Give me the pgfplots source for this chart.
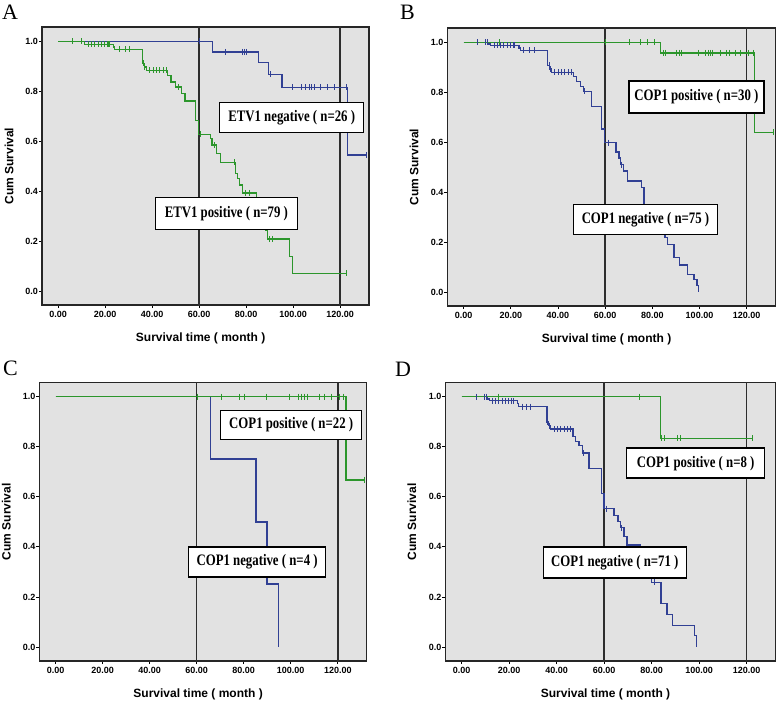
\documentclass[border=0pt]{standalone}
\usepackage{fontspec}
\usepackage{pgfplots}
\pgfplotsset{compat=1.18}
\setmainfont{Liberation Serif}
\setsansfont{Liberation Sans}
\newfontfamily\boxfont[FakeStretch=0.8]{Liberation Serif}

\definecolor{kmblue}{RGB}{49,64,148}
\definecolor{kmgreen}{RGB}{44,150,44}
\definecolor{bgray}{RGB}{226,226,226}
\definecolor{refgray}{RGB}{45,45,45}

\tikzset{
  lbox/.style={draw=black, fill=white, line width=1.4pt, inner sep=0pt,
    font=\boxfont\bfseries\fontsize{16}{18}\selectfont},
}
\pgfplotsset{
  kmaxis/.style={
    scale only axis, anchor=north west,
    xmin=-6.9, xmax=132.3, ymin=-0.056, ymax=1.057,
    axis background/.style={fill=bgray},
    axis line style={line width=1.4pt, draw=black!85},
    xtick={0,20,...,120}, ytick={0,0.2,0.4,0.6,0.8,1.0},
    scaled ticks=false,
    tick align=outside, major tick length=3pt,
    tick style={black, line width=0.8pt},
    xtick pos=bottom, ytick pos=left,
    tick label style={font=\sffamily\bfseries\fontsize{9}{10}\selectfont},
    x tick label style={/pgf/number format/fixed, /pgf/number format/fixed zerofill,
      /pgf/number format/precision=2, /pgf/number format/assume math mode=true},
    y tick label style={/pgf/number format/fixed, /pgf/number format/fixed zerofill,
      /pgf/number format/precision=1, /pgf/number format/assume math mode=true, inner xsep=0.8pt},
    xlabel={Survival time ( month )}, ylabel={Cum Survival},
    label style={font=\sffamily\bfseries\fontsize{12}{14}\selectfont},
    xlabel style={at={(axis description cs:0.485,-0.119)}, anchor=center},
    ylabel style={at={(axis description cs:-0.101,0.5)}, anchor=center},
  },
  refline/.style={refgray, line width=1.5pt, forget plot},
  kmline/.style={const plot, line width=1.3pt},
  censor/.style={only marks, mark=|, mark size=3pt, mark options={line width=0.9pt}},
}

\begin{document}
\begin{tikzpicture}
\path[use as bounding box] (0,0) rectangle (778pt,-701pt);

\node[anchor=base west, font=\fontsize{22}{24}\selectfont, inner sep=0] at (2pt,-20pt) {A};
\node[anchor=base west, font=\fontsize{22}{24}\selectfont, inner sep=0] at (400pt,-20pt) {B};
\node[anchor=base west, font=\fontsize{22}{24}\selectfont, inner sep=0] at (3pt,-375pt) {C};
\node[anchor=base west, font=\fontsize{22}{24}\selectfont, inner sep=0] at (395pt,-376pt) {D};

% ---------- A ----------
\begin{axis}[kmaxis, at={(42pt,-27pt)}, width=327pt, height=278pt]
\addplot[refline] coordinates {(60,-0.2) (60,1.2)};
\addplot[refline] coordinates {(120,-0.2) (120,1.2)};
% ETV1 negative
\addplot[kmline, kmblue] coordinates {
  (0,1) (65.6,0.957) (85.4,0.915) (89.5,0.867) (95.2,0.815) (123.2,0.544) (131,0.544)};
\addplot[censor, kmblue] coordinates {
  (60.2,1) (71,0.957) (78.4,0.957) (79.4,0.957) (80.1,0.957) (90.2,0.867)
  (99.9,0.815) (103.4,0.815) (105.2,0.815) (106.9,0.815) (107.6,0.815) (109,0.815)
  (111.8,0.815) (114.6,0.815) (117.6,0.815) (122.5,0.815) (131,0.544)};
% ETV1 positive
\addplot[kmline, kmgreen] coordinates {
  (0,1) (11.3,0.987) (23.4,0.977) (24,0.968) (35.9,0.911) (36.6,0.897) (37.6,0.884)
  (46.5,0.864) (48,0.837) (50,0.817) (52.5,0.79) (54,0.761) (58.4,0.684) (59.8,0.628)
  (64.9,0.611) (65.5,0.584) (67.5,0.551) (69,0.515) (75.5,0.471) (76.3,0.451)
  (77.3,0.424) (78.5,0.393) (84.5,0.36) (85.5,0.33) (86.5,0.30) (87.5,0.27)
  (88.5,0.244) (89.2,0.208) (98.5,0.137) (99.6,0.071) (122.5,0.071)};
\addplot[censor, kmgreen] coordinates {
  (6.1,1) (9.9,1) (12.7,0.987) (14.2,0.987) (15.6,0.987) (17,0.987) (18.4,0.987)
  (19.8,0.987) (20.8,0.987) (21.3,0.987) (21.6,0.987) (26.2,0.968) (28.8,0.968)
  (30.2,0.968) (36.2,0.911) (36.9,0.897) (39,0.884) (40.4,0.884) (41.8,0.884)
  (43.2,0.884) (44.6,0.884) (46.1,0.884) (51,0.817) (60.7,0.628) (66.3,0.584)
  (75.1,0.515) (79.8,0.393) (81.3,0.393) (89.9,0.208) (91,0.208) (122.5,0.071)};
\node[lbox, minimum width=144pt, minimum height=30pt] at (axis cs:99.4,0.694) {ETV1 negative ( n=26 )};
\node[lbox, minimum width=142pt, minimum height=32pt] at (axis cs:71.6,0.311) {ETV1 positive ( n=79 )};
\end{axis}

% ---------- B ----------
\begin{axis}[kmaxis, at={(447.3pt,-28pt)}, width=328.4pt, height=278pt]
\addplot[refline] coordinates {(60,-0.2) (60,1.2)};
\addplot[refline] coordinates {(120,-0.2) (120,1.2)};
% COP1 negative
\addplot[kmline, kmblue] coordinates {
  (0,1) (10.8,0.993) (11.5,0.987) (23.5,0.977) (24.2,0.967) (35.7,0.907) (36.5,0.893)
  (37.3,0.88) (46.5,0.864) (47.9,0.842) (49.5,0.824) (50.7,0.804) (54.3,0.742)
  (58.5,0.653) (59.6,0.598) (64.6,0.56) (65.9,0.537) (66.5,0.51) (67.8,0.484)
  (69.4,0.444) (75.5,0.418) (76.5,0.351) (78,0.32) (79.5,0.29) (81,0.265) (83,0.24)
  (85.4,0.218) (86.5,0.19) (89.2,0.138) (91.5,0.108) (95,0.071) (97.7,0.05)
  (98.9,0.026) (99.7,0)};
\addplot[censor, kmblue] coordinates {
  (5.8,1) (9.3,1) (10.3,1) (12.9,0.987) (14.3,0.987) (15.7,0.987) (17.1,0.987)
  (18.6,0.987) (20,0.987) (21,0.987) (21.7,0.987) (25.2,0.967) (28,0.967) (29.9,0.967)
  (36.3,0.907) (37,0.893) (38.7,0.88) (40.1,0.88) (41.5,0.88) (42.9,0.88) (44.3,0.88)
  (45.8,0.88) (51.1,0.804) (61.3,0.598) (67,0.51)};
% COP1 positive
\addplot[kmline, kmgreen] coordinates {
  (0,1) (83.6,0.957) (123.4,0.64) (131.5,0.64)};
\addplot[censor, kmgreen] coordinates {
  (15.2,1) (60.2,1) (70.5,1) (74.8,1) (77.9,1) (80.7,1) (84.7,0.957) (85.4,0.957)
  (90.4,0.957) (91.5,0.957) (92.5,0.957) (99.6,0.957) (102.7,0.957) (103.6,0.957)
  (104.6,0.957) (105.3,0.957) (108.8,0.957) (111.6,0.957) (112.6,0.957) (115.2,0.957)
  (117.3,0.957) (120.8,0.957) (123,0.957) (131.5,0.64)};
\node[lbox, minimum width=135pt, minimum height=32pt] at (axis cs:98.7,0.781) {COP1 positive ( n=30 )};
\node[lbox, minimum width=144pt, minimum height=30pt] at (axis cs:77.1,0.291) {COP1 negative ( n=75 )};
\end{axis}

% ---------- C ----------
\begin{axis}[kmaxis, at={(39.3pt,-382.3pt)}, width=327.4pt, height=278.7pt]
\addplot[refline] coordinates {(60,-0.2) (60,1.2)};
\addplot[refline] coordinates {(120,-0.2) (120,1.2)};
% COP1 negative
\addplot[kmline, kmblue, line width=1.8pt] coordinates {
  (0,1) (65.9,0.75) (85.2,0.5) (89.8,0.25) (94.8,0)};
% COP1 positive
\addplot[kmline, kmgreen] coordinates {
  (0,1) (123.5,0.667) (131.3,0.667)};
\addplot[censor, kmgreen] coordinates {
  (60.3,1) (70.6,1) (78.1,1) (80.2,1) (89.6,1) (99.5,1) (103.1,1) (104.5,1)
  (105.9,1) (107.3,1) (112,1) (114.4,1) (117.2,1) (120.7,1) (122.5,1) (131.3,0.667)};
\node[lbox, minimum width=141pt, minimum height=29pt] at (axis cs:100.2,0.886) {COP1 positive ( n=22 )};
\node[lbox, minimum width=137pt, minimum height=30pt] at (axis cs:85.7,0.34) {COP1 negative ( n=4 )};
\end{axis}

% ---------- D ----------
\begin{axis}[kmaxis, at={(445.3pt,-382.3pt)}, width=330.4pt, height=278.7pt]
\addplot[refline] coordinates {(60,-0.2) (60,1.2)};
\addplot[refline] coordinates {(120,-0.2) (120,1.2)};
% COP1 negative
\addplot[kmline, kmblue] coordinates {
  (0,1) (11,0.99) (11.8,0.983) (23.4,0.971) (24,0.96) (36,0.898) (36.7,0.884)
  (37.5,0.871) (46.9,0.84) (48,0.82) (49.4,0.804) (50.9,0.775) (53.6,0.712)
  (59,0.613) (60,0.553) (64.2,0.524) (65.9,0.5) (66.8,0.476) (68.4,0.44)
  (69.6,0.407) (75.1,0.37) (76.5,0.34) (77.6,0.31) (78.6,0.29) (80,0.258)
  (84,0.174) (86.5,0.13) (88.9,0.087) (98,0.047) (98.8,0)};
\addplot[censor, kmblue] coordinates {
  (6.2,1) (9.7,1) (10.4,1) (12.8,0.983) (14.2,0.983) (15.6,0.983) (17,0.983)
  (18.4,0.983) (19.8,0.983) (20.8,0.983) (21.7,0.983) (25.5,0.96) (27.3,0.96)
  (29,0.96) (36.3,0.898) (37,0.884) (38.9,0.871) (40.3,0.871) (41.7,0.871)
  (43.1,0.871) (44.5,0.871) (45.9,0.871) (51.3,0.775) (61,0.553) (67.3,0.476)
  (81.4,0.258)};
% COP1 positive
\addplot[kmline, kmgreen] coordinates {
  (0,1) (83.8,0.833) (122.3,0.833)};
\addplot[censor, kmgreen] coordinates {
  (15.5,1) (74.9,1) (84.2,0.833) (85.3,0.833) (90.9,0.833) (92,0.833) (122.3,0.833)};
\node[lbox, minimum width=138pt, minimum height=30pt] at (axis cs:98.6,0.734) {COP1 positive ( n=8 )};
\node[lbox, minimum width=143pt, minimum height=31pt] at (axis cs:64.5,0.338) {COP1 negative ( n=71 )};
\end{axis}
\end{tikzpicture}
\end{document}
